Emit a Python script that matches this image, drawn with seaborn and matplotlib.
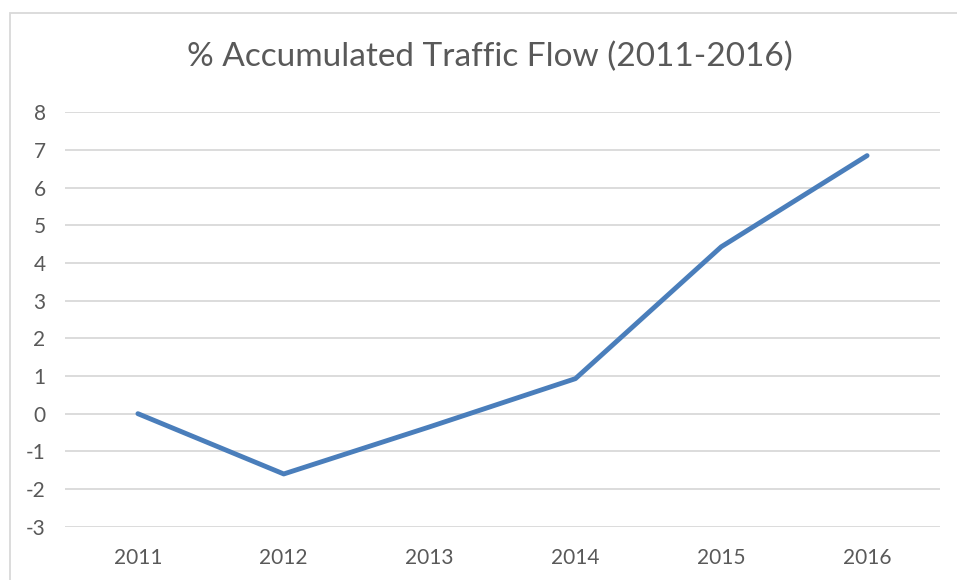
import matplotlib
matplotlib.use("Agg")
import matplotlib.pyplot as plt
import seaborn as sns
import pandas as pd
from matplotlib.patches import Rectangle

years = ["2011", "2012", "2013", "2014", "2015", "2016"]
values = [0.0, -1.6, -0.35, 0.93, 4.43, 6.85]
yticks = [-3, -2, -1, 0, 1, 2, 3, 4, 5, 6, 7, 8]
title = "% Accumulated Traffic Flow (2011-2016)"

sns.set_theme(style="white")
plt.rcParams["font.family"] = ["Lato", "DejaVu Sans"]
plt.rcParams["axes.unicode_minus"] = False

W, H = 957, 580
fig = plt.figure(figsize=(W / 100, H / 100), dpi=100)
ax = fig.add_axes([65 / W, 1 - 526.7 / H, (940 - 65) / W, (526.7 - 112.3) / H])

df = pd.DataFrame({"year": years, "value": values})
sns.lineplot(data=df, x="year", y="value", ax=ax, color="#4a7ebb",
             linewidth=3.5, solid_capstyle="round", solid_joinstyle="round", zorder=3)

ax.set_xlim(-0.5, len(years) - 0.5)
ax.set_ylim(-3, 8)
ax.set_yticks(yticks)
ax.grid(axis="y", color="#d9d9d9", linewidth=1.3)
ax.grid(axis="x", visible=False)
for s in ax.spines.values():
    s.set_visible(False)
ax.set_xlabel("")
ax.set_ylabel("")
ax.tick_params(axis="y", length=0, pad=14, labelsize=15, labelcolor="#595959")
ax.tick_params(axis="x", length=0, pad=15, labelsize=15, labelcolor="#595959")

fig.text(490 / W, 1 - 57 / H, title, ha="center", va="center",
         fontsize=24, color="#595959")

fig.patches.append(Rectangle((10 / W, -0.1), 1.2, 1.1 - 12.5 / H,
                             transform=fig.transFigure, fill=False,
                             edgecolor="#d9d9d9", linewidth=1.3, zorder=0))

fig.savefig("out.png", dpi=100)
